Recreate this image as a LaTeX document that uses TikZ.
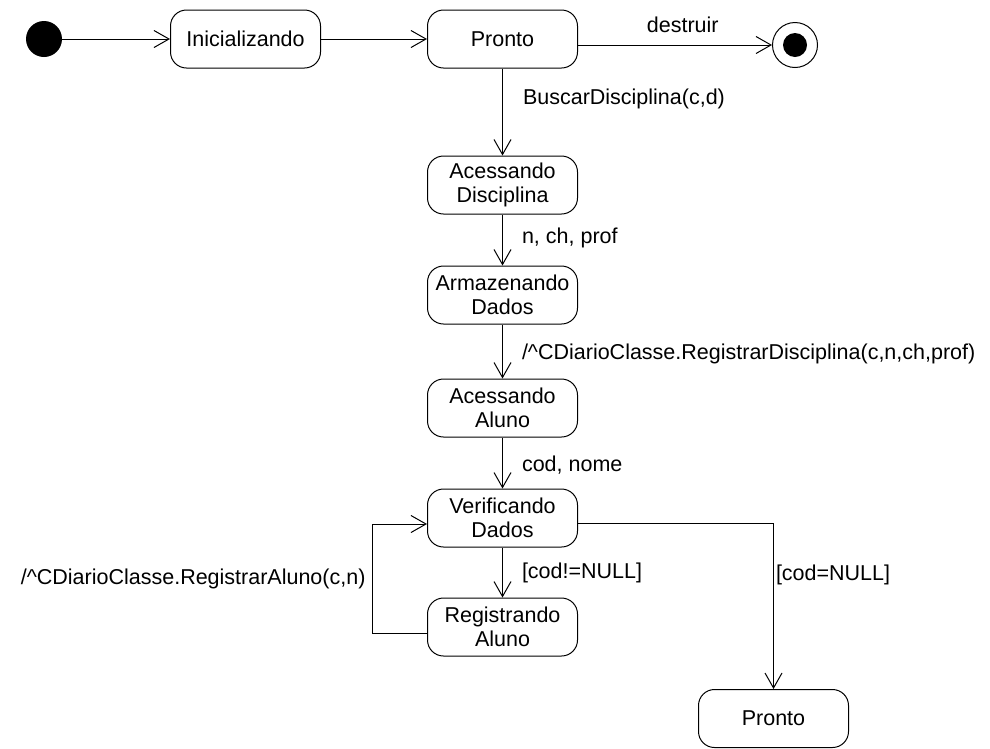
\documentclass[tikz,border=0pt]{standalone}
\usepackage{fontspec}
\setmainfont{Liberation Sans}
\usetikzlibrary{arrows.meta, positioning}

\begin{document}
\begin{tikzpicture}[
  x=1pt, y=1pt,
  node distance=51pt and 106pt,
  estado/.style={rectangle, draw=black, rounded corners=16pt, line width=1pt,
                 minimum width=150pt, minimum height=58pt, align=center,
                 inner sep=2pt, font=\fontsize{21.5}{24}\selectfont},
  inicio/.style={circle, fill=black, minimum size=36pt, inner sep=0pt},
  final/.style={circle, draw=black, line width=1pt, minimum size=45pt, inner sep=0pt},
  rotulo/.style={inner sep=0pt, font=\fontsize{21.5}{24}\selectfont},
  seta/.style={-{Straight Barb[length=15pt, width=17pt, line width=1pt]}, line width=1pt}
]
\useasboundingbox (0,0) rectangle (990,-748);

\node[inicio] (inicio) at (44,-39) {};
\node[estado] (ini) at (245.5,-39) {Inicializando};
\node[estado, right=of ini] (pronto) {Pronto};
\node[final] (fim) at (795,-45) {};
\fill (fim) circle (12pt);

\node[estado, below=87pt of pronto] (acdisc) {Acessando\\Disciplina};
\node[estado, below=of acdisc] (armdados) {Armazenando\\Dados};
\node[estado, below=54pt of armdados] (acaluno) {Acessando\\Aluno};
\node[estado, below=of acaluno] (verif) {Verificando\\Dados};
\node[estado, below=50pt of verif] (reg) {Registrando\\Aluno};
\node[estado] (pronto2) at (773.5,-718.5) {Pronto};

\draw[seta] (inicio) -- (ini);
\draw[seta] (ini) -- (pronto);
\draw[seta] (pronto.east |- fim) -- node[rotulo, above=12pt, pos=.54] {destruir} (fim);
\draw[seta] (pronto) -- node[rotulo, right=20pt, pos=.35] {BuscarDisciplina(c,d)} (acdisc);
\draw[seta] (acdisc) -- node[rotulo, right=19pt, pos=.45] {n, ch, prof} (armdados);
\draw[seta] (armdados) -- node[rotulo, right=19pt, pos=.55] {/\textasciicircum CDiarioClasse.RegistrarDisciplina(c,n,ch,prof)} (acaluno);
\draw[seta] (acaluno) -- node[rotulo, right=19pt, pos=.55] {cod, nome} (verif);
\draw[seta] (verif) -- node[rotulo, right=19pt, pos=.5] {[cod!=NULL]} (reg);
\draw[seta] ([yshift=-6pt]reg.west) -- ++(-55,0)
  |- node[rotulo, left=6pt, pos=.25] {/\textasciicircum CDiarioClasse.RegistrarAluno(c,n)} ([yshift=-6pt]verif.west);
\draw[seta] ([yshift=-5pt]verif.east) -| node[rotulo, right=2pt, pos=.655] {[cod=NULL]} (pronto2);

\end{tikzpicture}
\end{document}
